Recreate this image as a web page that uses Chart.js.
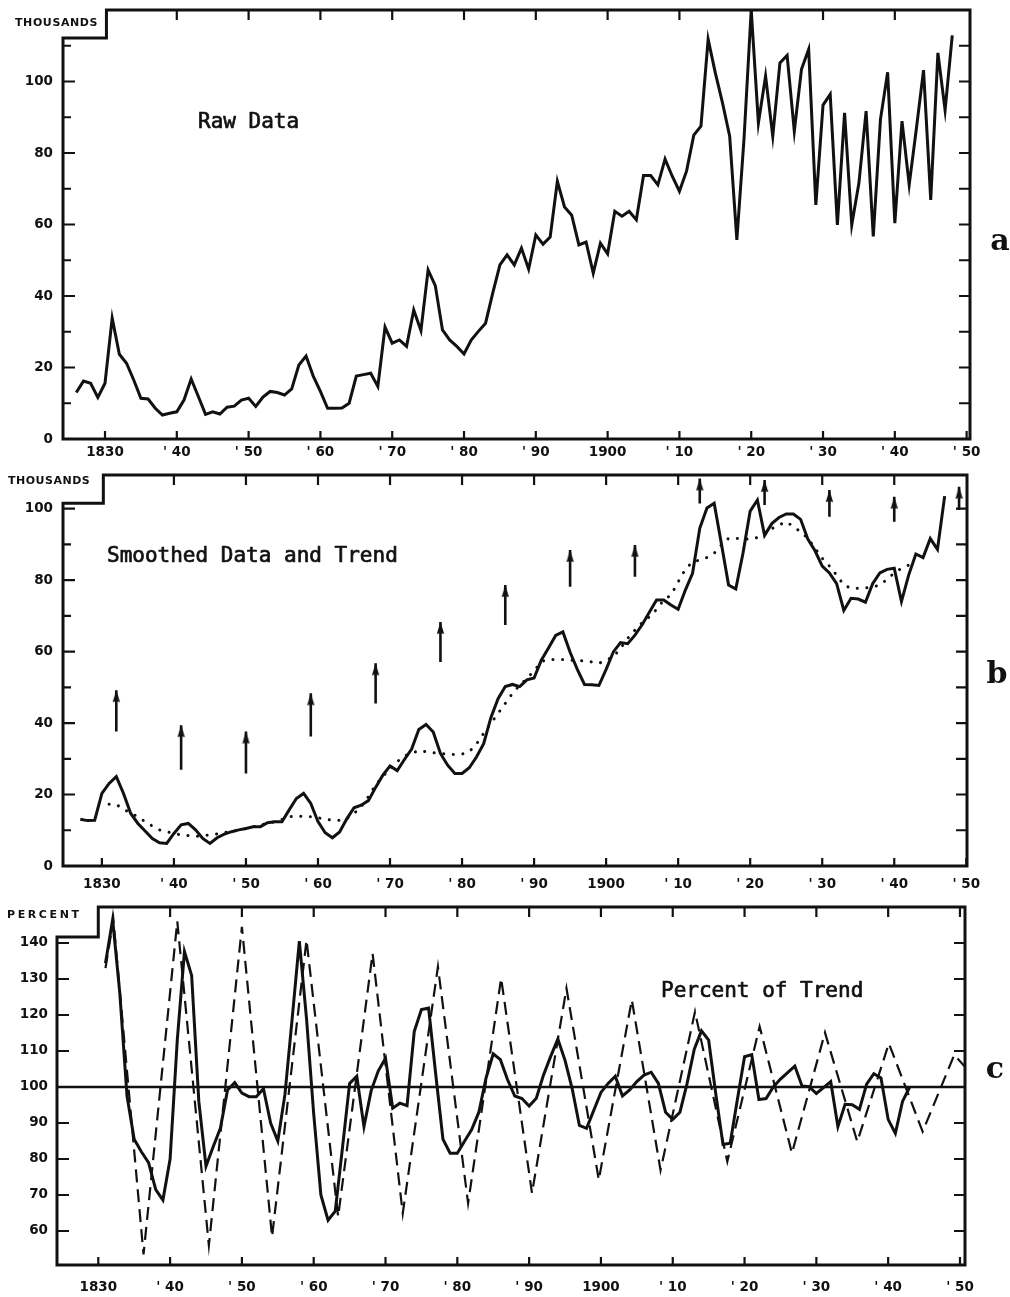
<!DOCTYPE html>
<html>
<head>
<meta charset="utf-8">
<title>Raw data, smoothed data and trend, percent of trend</title>
<script src="https://cdn.jsdelivr.net/npm/chart.js@4.4.1/dist/chart.umd.min.js"></script>
<style>
  html, body { margin: 0; padding: 0; background: #ffffff; }
  #page { position: relative; width: 1010px; height: 1297px; overflow: hidden; background: #ffffff; }
  #page canvas { position: absolute; left: 0; }
</style>
</head>
<body>
<div id="page">
  <canvas id="panelA" width="1010" height="460" style="top:0px"></canvas>
  <canvas id="panelB" width="1010" height="432" style="top:460px"></canvas>
  <canvas id="panelC" width="1010" height="405" style="top:892px"></canvas>
</div>
<script>
// ---------- shared axis categories ----------
const decadeTicks  = [1830, 1840, 1850, 1860, 1870, 1880, 1890, 1900, 1910, 1920, 1930, 1940, 1950];
const decadeLabels = ['1830', "' 40", "' 50", "' 60", "' 70", "' 80", "' 90", '1900', "' 10", "' 20", "' 30", "' 40", "' 50"];

// ---------- a: raw yearly data, thousands (1826 - 1948) ----------
const rawStartYear = 1826;
const rawThousands = [
  13.0, 16.2, 15.6, 11.6, 15.6, 33.8, 23.7, 21.2, 16.5, 11.4,
  11.2,  8.6,  6.7,  7.2,  7.6, 10.9, 16.8, 11.9,  6.9,  7.6,
   7.0,  8.9,  9.2, 10.9, 11.4,  9.1, 11.7, 13.3, 13.0, 12.3,
  14.0, 20.7, 23.2, 17.6, 13.3,  8.6,  8.6,  8.7, 10.0, 17.6,
  18.0, 18.4, 14.7, 31.3, 26.8, 27.7, 25.9, 36.1, 30.3, 47.3,
  42.9, 30.5, 27.7, 25.9, 23.8, 27.7, 30.1, 32.4, 40.8, 48.7,
  51.5, 48.7, 53.4, 47.5, 57.1, 54.5, 56.5, 72.1, 64.9, 62.6,
  54.3, 55.1, 46.4, 54.8, 51.8, 63.7, 62.3, 63.7, 61.3, 73.7,
  73.7, 71.1, 78.3, 73.5, 69.3, 75.0, 85.0, 87.5, 111.8, 102.4,
  94.0, 84.7, 55.7, 84.1, 120.0, 88.4, 101.5, 84.7, 105.2, 107.3,
  86.1, 103.4, 109.0, 65.5, 93.4, 96.4, 59.9, 91.2, 59.9, 71.6,
  91.7, 56.7, 89.4, 102.6, 60.4, 88.9, 71.1, 86.8, 103.2, 66.9,
  108.0, 92.0, 112.9
];

// ---------- b: smoothed data (1827 - 1947) and trend (1831 - 1942), thousands ----------
const smoothStartYear = 1827;
const smoothedThousands = [
  13.1, 12.7, 12.8, 20.3, 23.1, 25.0, 20.3, 14.7, 11.9,  9.8,
   7.7,  6.5,  6.3,  9.1, 11.5, 11.9, 10.1,  7.7,  6.3,  7.9,
   8.9,  9.6, 10.1, 10.5, 11.0, 11.0, 12.1, 12.4, 12.4, 15.7,
  18.9, 20.3, 17.5, 12.4,  9.3,  7.9,  9.5, 13.2, 16.3, 17.0,
  18.3, 22.0, 25.4, 28.0, 26.7, 29.8, 32.7, 38.2, 39.6, 37.5,
  31.5, 28.2, 25.9, 25.9, 27.5, 30.5, 34.2, 41.5, 46.8, 50.2,
  50.8, 50.2, 52.1, 52.6, 57.6, 61.0, 64.5, 65.5, 59.8, 55.0,
  50.8, 50.7, 50.5, 55.0, 59.9, 62.5, 62.2, 64.6, 67.5, 71.0,
  74.4, 74.4, 73.0, 71.8, 77.2, 81.9, 94.5, 100.2, 101.5, 90.2,
  78.6, 77.5, 87.5, 99.3, 102.4, 92.5, 95.8, 97.5, 98.5, 98.5,
  97.0, 91.5, 88.2, 83.9, 82.0, 79.0, 71.5, 74.9, 74.7, 73.8,
  79.0, 82.0, 83.0, 83.3, 74.0, 81.4, 87.3, 86.3, 91.6, 88.6,
  103.5
];
const trendStartYear = 1831;
const trendThousands = [
  17.3, 17.2, 15.9, 14.8, 13.8, 12.4, 11.2, 10.1,  9.6,  9.1,
   8.7,  8.5,  8.3,  8.5,  8.7,  9.0,  9.4,  9.6, 10.1, 10.5,
  11.0, 11.5, 11.9, 12.4, 13.0, 13.8, 13.9, 13.9, 13.8, 13.5,
  13.1, 12.8, 12.8, 13.3, 14.7, 16.6, 19.4, 22.7, 25.0, 27.3,
  29.2, 30.8, 31.5, 32.3, 32.0, 31.7, 31.5, 31.3, 31.2, 31.3,
  32.0, 34.1, 37.1, 39.9, 42.7, 45.5, 48.3, 50.6, 52.5, 54.6,
  57.2, 57.8, 57.8, 57.8, 57.6, 57.6, 57.3, 57.1, 56.7, 57.6,
  58.5, 60.9, 63.7, 66.0, 68.1, 69.7, 71.8, 74.4, 75.8, 79.5,
  83.0, 85.1, 85.6, 86.3, 87.5, 89.8, 91.7, 91.7, 91.5, 91.5,
  91.9, 92.9, 94.4, 95.4, 96.3, 95.0, 93.5, 91.7, 88.9, 86.1,
  83.9, 81.4, 78.6, 77.7, 77.7, 77.8, 78.1, 78.6, 80.2, 82.0,
  83.3, 84.2
];
// cycle-peak markers (year, arrow foot, arrow tip)
const arrowYears = [1832, 1841, 1850, 1859, 1868, 1877, 1886, 1895, 1904, 1913, 1922, 1931, 1940, 1949];
const arrowBase  = [37.6, 26.9, 25.9, 36.2, 45.5, 57.1, 67.4, 78.1, 80.9, 101.4, 101.0, 97.7, 96.3, 99.6];
const arrowTip   = [49.2, 39.4, 37.6, 48.3, 56.7, 68.3, 78.6, 88.4, 89.8, 108.4, 108.0, 105.2, 103.3, 106.1];

// ---------- c: percent of trend (1831 - 1943) and idealised cycle ----------
const percentStartYear = 1831;
const percentOfTrend = [
  134.4, 146.5, 126.0,  97.5,  85.5,  82.0,  79.0,  71.5,  68.6,  80.0,
  113.0, 137.6, 131.0,  96.0,  78.0,  83.4,  88.5,  99.2, 101.2,  98.3,
   97.3,  97.3,  99.5,  90.0,  85.0,  98.0, 119.0, 140.5, 119.0,  92.5,
   70.0,  63.0,  65.5,  83.0, 101.0, 103.0,  89.0,  99.0, 104.5, 108.0,
   94.1,  95.5,  94.8, 115.4, 121.5, 121.9, 103.4,  85.5,  81.6,  81.6,
   84.9,  88.2,  93.0, 102.5, 109.2, 107.6, 102.0,  97.5,  96.8,  94.7,
   96.9, 103.3, 108.5, 113.3, 107.4,  99.5,  89.3,  88.5,  93.5,  98.5,
  101.0, 103.0,  97.5,  99.2, 101.5, 103.3, 104.1, 101.0,  93.0,  91.0,
   93.0, 101.0, 110.5, 115.6, 113.0,  98.0,  84.0,  84.4,  96.5, 108.4,
  109.0,  96.5,  96.8, 100.0, 102.2, 104.0, 105.8, 100.3, 100.1,  98.2,
   99.8, 101.5,  89.0,  95.2,  95.1,  93.8, 100.8, 103.7, 102.5,  91.0,
   87.1,  96.0, 100.0
];
const cycleYears  = [1831.0, 1832.1, 1836.3, 1841.0, 1845.4, 1850.0, 1854.2, 1859.0, 1863.4, 1868.2,
                     1872.4, 1877.3, 1881.5, 1886.1, 1890.4, 1895.2, 1899.7, 1904.3, 1908.3, 1913.1,
                     1917.6, 1922.1, 1926.6, 1931.2, 1935.7, 1940.1, 1944.8, 1949.2, 1950.7];
const cycleValues = [133.0, 146.5,  53.5, 146.0,  56.0, 144.5,  58.4, 140.8,  64.0, 137.1,
                      64.9, 133.4,  67.7, 130.2,  70.5, 127.4,  74.2, 124.2,  76.9, 120.9,
                      79.3, 116.8,  81.6, 115.1,  84.8, 112.1,  87.6, 108.9, 105.6];

// ---------- axis tick values ----------
const thousandsTicksA = [0, 10, 20, 30, 40, 50, 60, 70, 80, 90, 100, 110];
const thousandsTicksB = [0, 10, 20, 30, 40, 50, 60, 70, 80, 90, 100];
const thousandsLabels = [0, 20, 40, 60, 80, 100];
const percentTicks    = [60, 70, 80, 90, 100, 110, 120, 130, 140];
const percentBase     = 100;

// ---------- drawing helpers ----------
const INK = '#111111';
Chart.defaults.font.family = '"DejaVu Sans", sans-serif';
Chart.defaults.color = INK;

const series = (start, values) => values.map((v, i) => ({ x: start + i, y: v }));

// narrow filled arrow head; its apex sits at the image centre
function arrowHeadImage() {
  const c = document.createElement('canvas');
  c.width = 9; c.height = 28;
  const g = c.getContext('2d');
  g.fillStyle = INK;
  g.beginPath();
  g.moveTo(4.5, 14);
  g.lineTo(8.2, 26);
  g.quadraticCurveTo(4.5, 24.5, 0.8, 26);
  g.closePath();
  g.fill();
  return c;
}

// frame with the stepped corner, inward tick marks, reference line and lettering
const panelDecor = {
  id: 'panelDecor',
  beforeDatasetsDraw(chart, args, o) {
    if (o.refLine == null) return;
    const { ctx, chartArea: a, scales: { y } } = chart;
    const py = y.getPixelForValue(o.refLine);
    ctx.save();
    ctx.strokeStyle = INK; ctx.lineWidth = 2.4;
    ctx.beginPath(); ctx.moveTo(a.left, py); ctx.lineTo(a.right, py); ctx.stroke();
    ctx.restore();
  },
  afterDatasetsDraw(chart, args, o) {
    const { ctx, chartArea: a, scales: { x, y } } = chart;
    ctx.save();
    ctx.strokeStyle = INK; ctx.fillStyle = INK;
    const sx = x.getPixelForValue(o.stepX);
    const sy = y.getPixelForValue(o.stepY);
    ctx.lineWidth = 3; ctx.lineJoin = 'miter'; ctx.lineCap = 'square';
    ctx.beginPath();
    ctx.moveTo(a.left, a.bottom);
    ctx.lineTo(a.left, sy);
    ctx.lineTo(sx, sy);
    ctx.lineTo(sx, a.top);
    ctx.lineTo(a.right, a.top);
    ctx.lineTo(a.right, a.bottom);
    ctx.closePath();
    ctx.stroke();

    ctx.lineWidth = 2.2; ctx.lineCap = 'butt';
    ctx.beginPath();
    o.leftTicks.forEach(v => {
      const py = y.getPixelForValue(v);
      const len = o.leftMajor.includes(v) ? 12 : 8;
      ctx.moveTo(a.left, py); ctx.lineTo(a.left + len, py);
    });
    o.rightTicks.forEach(v => {
      const py = y.getPixelForValue(v);
      ctx.moveTo(a.right, py); ctx.lineTo(a.right - 11, py);
    });
    x.ticks.forEach(t => {
      const px = x.getPixelForValue(t.value);
      ctx.moveTo(px, a.bottom); ctx.lineTo(px, a.bottom - 8);
      if (px > sx + 4 && px < a.right - 4) { ctx.moveTo(px, a.top); ctx.lineTo(px, a.top + 10); }
    });
    ctx.stroke();

    o.texts.forEach(t => {
      ctx.font = t.font;
      ctx.textAlign = t.align || 'left';
      ctx.textBaseline = 'alphabetic';
      ctx.letterSpacing = (t.spacing || 0) + 'px';
      ctx.fillText(t.text, t.x, t.y);
      if (t.outline) {
        ctx.lineWidth = t.outline; ctx.lineJoin = 'round';
        ctx.strokeText(t.text, t.x, t.y);
      }
    });
    ctx.letterSpacing = '0px';
    ctx.restore();
  }
};

const tickFont = { family: '"DejaVu Sans", sans-serif', size: 13.5, weight: 'bold' };
const unitFont = 'bold 11px "DejaVu Sans"';
const titleFont = '21px "DejaVu Sans Mono"';
const letterFont = 'bold 30px "DejaVu Serif"';

function makePanel(id, g, datasets, decor) {
  return new Chart(document.getElementById(id), {
    type: 'line',
    data: { datasets },
    options: {
      responsive: false,
      animation: false,
      events: [],
      layout: { autoPadding: false, padding: { left: 0, top: g.top, right: 1010 - g.right, bottom: 0 } },
      elements: { point: { radius: 0, hoverRadius: 0 }, line: { tension: 0 } },
      plugins: { legend: { display: false }, tooltip: { enabled: false }, panelDecor: decor },
      scales: {
        x: {
          type: 'linear', min: g.xMin, max: g.xMax,
          grid: { display: false, drawTicks: false, tickLength: 0 },
          border: { display: false },
          afterBuildTicks: s => { s.ticks = decadeTicks.map(v => ({ value: v })); },
          afterFit: s => { s.height = g.height - g.bottom; s.paddingLeft = 0; s.paddingRight = 0; },
          ticks: {
            autoSkip: false, maxRotation: 0, minRotation: 0,
            padding: g.xPad, font: tickFont, color: INK,
            callback: v => decadeLabels[decadeTicks.indexOf(v)]
          }
        },
        y: {
          type: 'linear', min: g.yMin, max: g.yMax,
          grid: { display: false, drawTicks: false, tickLength: 0 },
          border: { display: false },
          afterBuildTicks: s => { s.ticks = g.yTicks.map(v => ({ value: v })); },
          afterFit: s => { s.width = g.left; s.paddingTop = 0; s.paddingBottom = 0; },
          ticks: {
            autoSkip: false, padding: g.yPad, font: tickFont, color: INK,
            callback: v => (g.yLabels.includes(v) ? String(v) : '')
          }
        }
      }
    },
    plugins: [panelDecor]
  });
}

// ---------- panel a ----------
makePanel('panelA',
  { height: 460, top: 10, bottom: 439, left: 63, right: 970,
    xMin: 1824.15, xMax: 1950.47, yMin: 0, yMax: 120,
    yTicks: thousandsTicksA, yLabels: thousandsLabels, xPad: 5, yPad: 10 },
  [
    { data: series(rawStartYear, rawThousands), borderColor: INK, borderWidth: 3, borderJoinStyle: 'miter', fill: false }
  ],
  { stepX: 1830.2, stepY: 112.2,
    leftTicks: [10, 20, 30, 40, 50, 60, 70, 80, 90, 100, 110], leftMajor: [20, 40, 60, 80, 100],
    rightTicks: [10, 20, 30, 40, 50, 60, 70, 80, 90, 100, 110],
    texts: [
      { text: 'THOUSANDS', x: 15, y: 26, font: unitFont, spacing: 0.6 },
      { text: 'Raw Data', x: 198, y: 128, font: titleFont, outline: 0.7 },
      { text: 'a', x: 1000, y: 250, font: letterFont, align: 'center' }
    ] }
);

// ---------- panel b ----------
const headImg = arrowHeadImage();
const shaftPoints = arrowYears.flatMap((yr, i) => [
  { x: yr, y: arrowBase[i] }, { x: yr, y: arrowTip[i] }, { x: yr, y: null }
]);
const headPoints = arrowYears.map((yr, i) => ({ x: yr, y: arrowTip[i] }));

makePanel('panelB',
  { height: 432, top: 15, bottom: 406, left: 63, right: 967,
    xMin: 1824.6, xMax: 1950.1, yMin: 0, yMax: 109.4,
    yTicks: thousandsTicksB, yLabels: thousandsLabels, xPad: 10, yPad: 10 },
  [
    { data: series(trendStartYear, trendThousands), borderColor: INK, borderWidth: 3,
      borderDash: [0.1, 9.5], borderCapStyle: 'round', fill: false },
    { data: series(smoothStartYear, smoothedThousands), borderColor: INK, borderWidth: 3,
      borderJoinStyle: 'miter', fill: false },
    { data: shaftPoints, borderColor: INK, borderWidth: 2.6, spanGaps: false, fill: false },
    { data: headPoints, showLine: false, pointStyle: headImg, pointRadius: 5, pointHoverRadius: 5 }
  ],
  { stepX: 1830.2, stepY: 101.5,
    leftTicks: [10, 20, 30, 40, 50, 60, 70, 80, 90, 100], leftMajor: [20, 40, 60, 80, 100],
    rightTicks: [10, 20, 30, 40, 50, 60, 70, 80, 90, 100],
    texts: [
      { text: 'THOUSANDS', x: 8, y: 24, font: unitFont, spacing: 0.5 },
      { text: 'Smoothed Data and Trend', x: 107, y: 102, font: titleFont, outline: 0.7 },
      { text: 'b', x: 997, y: 223, font: letterFont, align: 'center' }
    ] }
);

// ---------- panel c ----------
makePanel('panelC',
  { height: 405, top: 15, bottom: 373, left: 57, right: 965,
    xMin: 1824.25, xMax: 1950.7, yMin: 50.55, yMax: 150,
    yTicks: percentTicks, yLabels: percentTicks, xPad: 14, yPad: 9 },
  [
    { data: cycleYears.map((yr, i) => ({ x: yr, y: cycleValues[i] })), borderColor: INK, borderWidth: 2.2,
      borderDash: [13, 7], fill: false },
    { data: series(percentStartYear, percentOfTrend), borderColor: INK, borderWidth: 3,
      borderJoinStyle: 'miter', fill: false }
  ],
  { stepX: 1830.0, stepY: 141.7, refLine: percentBase,
    leftTicks: percentTicks, leftMajor: percentTicks,
    rightTicks: percentTicks,
    texts: [
      { text: 'PERCENT', x: 7, y: 26, font: 'bold 11px "DejaVu Sans"', spacing: 2.6 },
      { text: 'Percent of Trend', x: 661, y: 105, font: titleFont, outline: 0.7 },
      { text: 'c', x: 995, y: 186, font: letterFont, align: 'center' }
    ] }
);
</script>
</body>
</html>
